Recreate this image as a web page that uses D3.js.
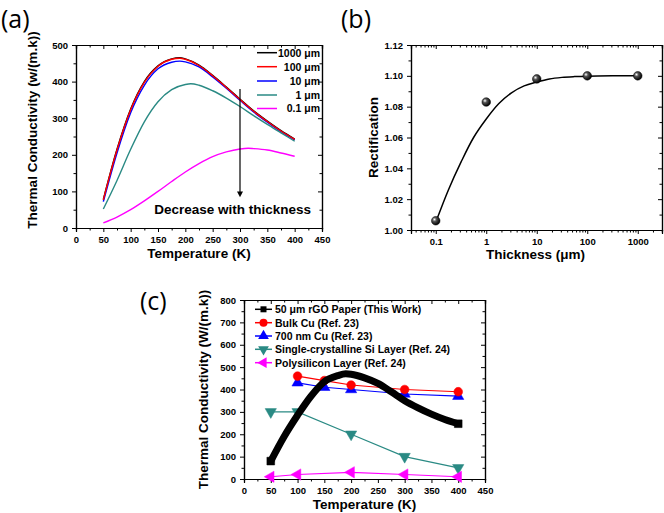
<!DOCTYPE html>
<html><head><meta charset="utf-8">
<script src="https://d3js.org/d3.v7.min.js"></script>
<style>body{margin:0;background:#fff}svg{display:block}text{font-family:"Liberation Sans",Arial,sans-serif}</style>
</head><body><svg id="c" width="664" height="513"></svg>
<script>
// ---------- Data ----------
// Panel (a): thermal conductivity vs temperature for various thicknesses
const tempsA = [50,75,100,125,150,175,190,200,225,250,275,300,325,350,375,400];
const k1000 = [78,215,325,400,443,462,465,462,445,417,385,352,320,292,266,243];
const k100  = [77,213,323,398,442,461,464,461,444,416,384,351,319,291,265,242];
const k10   = [72,205,315,390,435,453,456,454,440,413,382,349,317,289,263,241];
const tempsA1 = [50,75,100,125,150,175,200,210,225,250,275,300,325,350,375,400];
const k1    = [52,130,215,290,345,378,392,394,390,375,355,332,307,283,260,237];
const tempsA01 = [50,75,100,125,150,175,200,225,250,275,300,315,325,350,375,400];
const k01   = [14,30,50,74,100,127,153,176,195,208,216,218,217,213,205,196];
const legendA = ["1000 \u03bcm","100 \u03bcm","10 \u03bcm","1 \u03bcm","0.1 \u03bcm"];

// Panel (b): rectification vs thickness
const thick = [0.1,1,10,100,1000];
const rect  = [1.006,1.083,1.098,1.100,1.100];
const fitX = [0.1,0.178,0.316,0.562,1,1.78,3.16,5.62,10,17.8,31.6,56.2,100,316,1000];
const fitY = [1.005,1.026,1.044,1.060,1.072,1.082,1.089,1.0935,1.096,1.098,1.099,1.0995,1.0998,1.1,1.1];

// Panel (c): comparison
const rgoT = [50,75,100,125,150,175,190,200,225,250,275,300,325,350,375,400];
const rgoK = [80,190,285,370,435,462,470,468,452,427,390,350,318,290,266,247];
const cuT = [100,150,200,300,400], cuK = [460,440,420,400,390];
const cu700T = [100,150,200,300,400], cu700K = [430,410,400,380,370];
const siT = [50,100,200,300,400], siK = [300,300,200,100,50];
const polyT = [50,100,200,300,400], polyK = [10,20,30,20,10];
const legendC = ["50 \u03bcm rGO Paper (This Work)","Bulk Cu (Ref. 23)","700 nm Cu (Ref. 23)","Single-crystalline Si Layer (Ref. 24)","Polysilicon Layer (Ref. 24)"];

const TEAL="#2a8a84", MAG="#ff00ff", RED="#ff0000", BLUE="#0000ff";
const svg = d3.select("#c");
const defs = svg.append("defs");
const rg = defs.append("radialGradient").attr("id","ball").attr("cx","35%").attr("cy","35%").attr("r","65%");
rg.append("stop").attr("offset","0%").attr("stop-color","#ffffff");
rg.append("stop").attr("offset","35%").attr("stop-color","#555");
rg.append("stop").attr("offset","100%").attr("stop-color","#000");

function frame(g, x, y, W, H, xMajor, xMinor, yMajor, yMinor, xfmt, yfmt){
  const bx = d3.axisBottom(x).tickValues(xMajor).tickSize(4).tickFormat(xfmt);
  const bxm = d3.axisBottom(x).tickValues(xMinor).tickSize(2.5).tickFormat("");
  const ly = d3.axisLeft(y).tickValues(yMajor).tickSize(4).tickFormat(yfmt);
  const lym = d3.axisLeft(y).tickValues(yMinor).tickSize(2.5).tickFormat("");
  const tx = d3.axisTop(x).tickValues(xMajor).tickSize(-4).tickFormat("");
  const txm = d3.axisTop(x).tickValues(xMinor).tickSize(-2.5).tickFormat("");
  const ry = d3.axisRight(y).tickValues(yMajor).tickSize(-4).tickFormat("");
  const rym = d3.axisRight(y).tickValues(yMinor).tickSize(-2.5).tickFormat("");
  const add = (ax, tr) => { const a=g.append("g").attr("transform",tr).call(ax);
    a.select(".domain").attr("stroke","#000").attr("stroke-width",1.2);
    a.selectAll("line").attr("stroke","#000").attr("stroke-width",1);
    a.selectAll("text").attr("font-size",9.5).attr("font-weight","bold").attr("fill","#000").attr("font-family","Liberation Sans, Arial, sans-serif");
    return a; };
  add(bx,`translate(0,${H})`).selectAll("text").attr("dy","0.8em");
  add(bxm,`translate(0,${H})`);
  add(ly,"translate(0,0)").selectAll("text").attr("dx","-1");
  add(lym,"translate(0,0)");
  add(tx,"translate(0,0)"); add(txm,"translate(0,0)");
  add(ry,`translate(${W},0)`); add(rym,`translate(${W},0)`);
}
function title(g, txt, x, y, rot){
  g.append("text").attr("transform",`translate(${x},${y})${rot?" rotate(-90)":""}`)
   .attr("text-anchor","middle").attr("font-size",13.5).attr("font-weight","bold").text(txt);
}
function panelLabel(txt,x,y){
  svg.append("text").attr("x",x).attr("y",y).attr("font-size",25)
    .attr("style","font-family:'Open Sans','DejaVu Sans',sans-serif").text(txt);
}

// ---------- Panel (a) ----------
{
  const L=76,T=45,W=246,H=183;
  const g=svg.append("g").attr("transform",`translate(${L},${T})`);
  const x=d3.scaleLinear().domain([0,450]).range([0,W]);
  const y=d3.scaleLinear().domain([0,500]).range([H,0]);
  frame(g,x,y,W,H,d3.range(0,451,50),d3.range(25,451,50),d3.range(0,501,100),d3.range(50,501,100),d3.format("d"),d3.format("d"));
  const series=[[tempsA,k1000,"#000"],[tempsA,k10,BLUE],[tempsA,k100,RED],[tempsA1,k1,TEAL],[tempsA01,k01,MAG]];
  series.forEach(([t,k,c])=>{
    g.append("path").datum(t.map((d,i)=>[d,k[i]]))
     .attr("d",d3.line().x(d=>x(d[0])).y(d=>y(d[1])).curve(d3.curveMonotoneX))
     .attr("fill","none").attr("stroke",c).attr("stroke-width",1.4);
  });
  // arrow
  g.append("line").attr("x1",x(300)).attr("x2",x(300)).attr("y1",y(380)).attr("y2",y(95)).attr("stroke","#000").attr("stroke-width",1.2);
  g.append("path").attr("d",`M${x(300)-3},${y(100)} L${x(300)+3},${y(100)} L${x(300)},${y(84)} Z`).attr("fill","#000");
  g.append("text").attr("x",x(143)).attr("y",y(37)).attr("font-size",13.5).attr("font-weight","bold").text("Decrease with thickness");
  // legend
  const lc=["#000",RED,BLUE,TEAL,MAG], ly=[52.7,66.7,81,95,108.5];
  legendA.forEach((s,i)=>{
    svg.append("line").attr("x1",257).attr("x2",277).attr("y1",ly[i]).attr("y2",ly[i]).attr("stroke",lc[i]).attr("stroke-width",1.5);
    svg.append("text").attr("x",320).attr("y",ly[i]+3.8).attr("text-anchor","end").attr("font-size",10.5).attr("font-weight","bold").text(s);
  });
  title(svg,"Temperature (K)",L+W/2,258,false);
  title(svg,"Thermal Conductivity (w/(m.k))",37,130,true);
  panelLabel("(a)",1,28);
}

// ---------- Panel (b) ----------
{
  const L=411,T=45,W=251,H=185;
  const g=svg.append("g").attr("transform",`translate(${L},${T})`);
  const x=d3.scaleLog().domain([Math.pow(10,-1.49),Math.pow(10,3.48)]).range([0,W]);
  const y=d3.scaleLinear().domain([1.0,1.12]).range([H,0]);
  const minors=[]; [0.01,0.1,1,10,100,1000].forEach(p=>{for(let m=2;m<=9;m++){const v=p*m; if(v>x.domain()[0]&&v<x.domain()[1]) minors.push(v);}});
  frame(g,x,y,W,H,thick,minors,d3.range(0,7).map(i=>1+i*0.02),d3.range(0,6).map(i=>1.01+i*0.02),d=>String(d),d3.format(".2f"));
  g.append("path").datum(fitX.map((d,i)=>[d,fitY[i]]))
   .attr("d",d3.line().x(d=>x(d[0])).y(d=>y(d[1])).curve(d3.curveCatmullRom))
   .attr("fill","none").attr("stroke","#000").attr("stroke-width",1.5);
  g.selectAll("circle.p").data(thick).enter().append("circle")
   .attr("cx",d=>x(d)).attr("cy",(d,i)=>y(rect[i])).attr("r",4.3).attr("fill","url(#ball)").attr("stroke","#000").attr("stroke-width",0.5);
  title(svg,"Thickness (\u03bcm)",L+W/2-1,259,false);
  title(svg,"Rectification",378,T+H/2,true);
  panelLabel("(b)",341,28);
}

// ---------- Panel (c) ----------
{
  const L=244,T=300,W=241,H=179;
  const g=svg.append("g").attr("transform",`translate(${L},${T})`);
  const x=d3.scaleLinear().domain([0,450]).range([0,W]);
  const y=d3.scaleLinear().domain([0,800]).range([H,0]);
  frame(g,x,y,W,H,d3.range(0,451,50),d3.range(25,451,50),d3.range(0,801,100),d3.range(50,801,100),d3.format("d"),d3.format("d"));
  const line=d3.line().x(d=>x(d[0])).y(d=>y(d[1]));
  const sym=(type,rot,size,color,px,py)=>{
    g.append("path").attr("d",d3.symbol().type(type).size(size)())
     .attr("transform",`translate(${px},${py}) rotate(${rot})`).attr("fill",color).attr("stroke",color).attr("stroke-width",0.5);
  };
  const simple=[[siT,siK,TEAL,d3.symbolTriangle,180],[polyT,polyK,MAG,d3.symbolTriangle,-90],[cu700T,cu700K,BLUE,d3.symbolTriangle,0],[cuT,cuK,RED,d3.symbolCircle,0]];
  simple.forEach(([t,k,c,s,r])=>{
    g.append("path").datum(t.map((d,i)=>[d,k[i]])).attr("d",line).attr("fill","none").attr("stroke",c).attr("stroke-width",1.2);
    t.forEach((d,i)=>sym(s,r,s===d3.symbolCircle?60:55,c,x(d),y(k[i])));
  });
  g.append("path").datum(rgoT.map((d,i)=>[d,rgoK[i]]))
   .attr("d",d3.line().x(d=>x(d[0])).y(d=>y(d[1])).curve(d3.curveMonotoneX))
   .attr("fill","none").attr("stroke","#000").attr("stroke-width",7);
  [0,rgoT.length-1].forEach(i=>sym(d3.symbolSquare,0,60,"#000",x(rgoT[i]),y(rgoK[i])));
  const cols=["#000",RED,BLUE,TEAL,MAG];
  const syms=[[d3.symbolSquare,0],[d3.symbolCircle,0],[d3.symbolTriangle,0],[d3.symbolTriangle,180],[d3.symbolTriangle,-90]];
  const lys=[309.3,322.7,336,349.3,362.7];
  legendC.forEach((s,i)=>{
    svg.append("line").attr("x1",255).attr("x2",272).attr("y1",lys[i]).attr("y2",lys[i]).attr("stroke",cols[i]).attr("stroke-width",1.5);
    svg.append("path").attr("d",d3.symbol().type(syms[i][0]).size(i===0?36:50)()).attr("transform",`translate(263.5,${lys[i]}) rotate(${syms[i][1]})`).attr("fill",cols[i]);
    svg.append("text").attr("x",275).attr("y",lys[i]+3.8).attr("font-size",10.5).attr("font-weight","bold").text(s);
  });
  title(svg,"Temperature (K)",L+W/2,509,false);
  title(svg,"Thermal Conductivity (W/(m.k))",208,T+H/2,true);
  panelLabel("(c)",140,310);
}
</script></body></html>
